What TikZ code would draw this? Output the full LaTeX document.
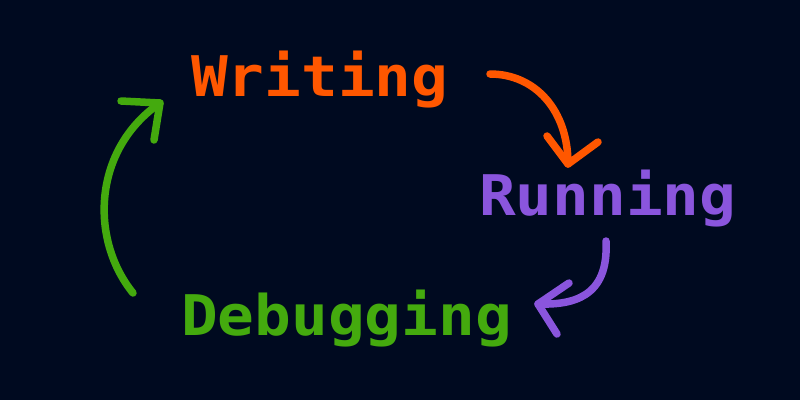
\documentclass[tikz,border=0pt]{standalone}
\usepackage{fontspec}
\newfontfamily\labfont[FakeStretch=1.09]{DejaVu Sans Mono Bold}
\definecolor{bgc}{HTML}{000A20}
\definecolor{orc}{HTML}{FF5700}
\definecolor{puc}{HTML}{8A55DD}
\definecolor{grc}{HTML}{44AA0E}
\tikzset{
  lab/.style={inner sep=0pt, anchor=base west, font=\labfont\fontsize{56}{60}\selectfont},
  arr/.style={line width=7.5pt, line cap=round, line join=round},
}
\begin{document}
\begin{tikzpicture}[x=1pt,y=-1pt]
\fill[bgc] (0,0) rectangle (800,400);
\useasboundingbox (0,0) rectangle (800,400);
\node[lab, text=orc] (w) at (191,96.5) {Writing};
\node[lab, text=puc] (r) at (479,215) {Running};
\node[lab, text=grc] (d) at (181,335) {Debugging};
% orange arrow
\coordinate (o1) at (490,74);
\coordinate (o2) at (568,164);
\coordinate (ow1) at (547,136);
\coordinate (ow2) at (598,142);
\draw[arr, orc] (o1) .. controls (535,74) and (568,110) .. (o2);
\draw[arr, orc] (ow1) -- (o2) -- (ow2);
% purple arrow
\coordinate (p1) at (606,241);
\coordinate (p2) at (538,304);
\coordinate (pw1) at (569,283);
\coordinate (pw2) at (557,334);
\draw[arr, puc] (p1) .. controls (609,298) and (572,305) .. (p2);
\draw[arr, puc] (pw1) -- (p2) -- (pw2);
% green arrow
\coordinate (g1) at (133,293);
\coordinate (g2) at (160,103);
\coordinate (gw1) at (121,101);
\coordinate (gw2) at (154,140);
\draw[arr, grc] (g1) .. controls (90,240) and (92,150) .. (g2);
\draw[arr, grc] (gw1) -- (g2) -- (gw2);
\end{tikzpicture}
\end{document}
